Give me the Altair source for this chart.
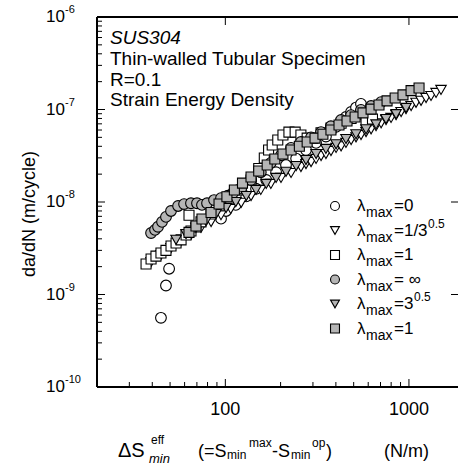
import altair as alt
import pandas as pd

# ---------------- data ----------------
# lambda_max = 0 (open circles)
c0_x = [44.6, 47.5, 49.4, 94.7, 100.9, 114, 130, 147, 167, 189, 214, 243, 275, 312, 353, 401, 427, 454, 484, 515, 548]
c0_y = [5.6e-10, 1.25e-9, 1.9e-9, 6.6e-9, 8.0e-9, 9.3e-9, 1.15e-8, 1.39e-8, 1.73e-8, 2.1e-8, 2.51e-8, 2.95e-8,
        3.65e-8, 4.35e-8, 5.1e-8, 6.5e-8, 7.3e-8, 8.3e-8, 9.4e-8, 1.05e-7, 1.15e-7]

# lambda_max = 1/3^0.5 (open down-triangles)
t1_x = [39.4, 44.6, 50.6, 57.4, 65.0, 73.7, 83.6, 94.7, 107, 122, 138, 156, 177, 201, 228, 258, 275, 293, 312, 332,
        353, 376, 401, 427, 454, 484, 515, 548, 584, 622, 662, 705, 750, 799, 851, 906, 964, 1027, 1093, 1164,
        1239, 1319, 1405, 1495]
t1_y = [2.24e-9, 2.67e-9, 3.18e-9, 3.79e-9, 4.4e-9, 5.24e-9, 6.08e-9, 7.2e-9, 8.4e-9, 9.8e-9, 1.16e-8, 1.35e-8,
        1.57e-8, 1.82e-8, 2.06e-8, 2.39e-8, 2.57e-8, 2.7e-8, 2.92e-8, 3.14e-8, 3.3e-8, 3.56e-8, 3.84e-8, 4.0e-8,
        4.35e-8, 4.68e-8, 5.0e-8, 5.3e-8, 5.7e-8, 6.1e-8, 6.6e-8, 7.1e-8, 7.7e-8, 8.1e-8, 8.7e-8, 9.4e-8, 1.01e-7,
        1.09e-7, 1.18e-7, 1.24e-7, 1.33e-7, 1.40e-7, 1.51e-7, 1.63e-7]

# lambda_max = 1 (open squares)
s2_x = [37.0, 39.4, 41.9, 44.6, 47.5, 50.6, 53.9, 57.4, 61.1, 63.4, 65.0, 69.2, 73.7, 83.6, 94.7, 107, 122, 138,
        152, 163, 172, 180, 193, 206, 222, 240, 258, 279, 300, 332, 376, 427, 484, 548, 584, 633]
s2_y = [2.14e-9, 2.42e-9, 2.6e-9, 2.81e-9, 3.0e-9, 3.35e-9, 3.6e-9, 3.9e-9, 4.4e-9, 7.2e-9, 4.85e-9, 5.37e-9,
        6.1e-9, 7.41e-9, 9.1e-9, 1.1e-8, 1.35e-8, 1.73e-8, 2.3e-8, 2.99e-8, 3.65e-8, 4.13e-8, 4.68e-8, 5.3e-8,
        5.7e-8, 5.7e-8, 5.3e-8, 4.9e-8, 4.9e-8, 5.6e-8, 6.3e-8, 7.1e-8, 8.0e-8, 8.9e-8, 7.5e-8, 7.9e-8]

# lambda_max = infinity (grey circles)
c3_x = [39.4, 41.4, 43.0, 45.2, 47.5, 50.6, 55.3, 59.6, 65.0, 70.1, 74.6, 79.5, 86.8, 94.7, 103, 110, 122, 138,
        156, 177, 201, 228, 258, 293, 332, 376, 427, 484, 548, 622, 705]
c3_y = [4.62e-9, 5.0e-9, 5.4e-9, 6.1e-9, 6.9e-9, 8.0e-9, 9.06e-9, 9.5e-9, 9.7e-9, 9.7e-9, 9.3e-9, 9.7e-9, 1.05e-8,
        1.1e-8, 1.17e-8, 1.25e-8, 1.4e-8, 1.73e-8, 2.1e-8, 2.65e-8, 3.2e-8, 3.85e-8, 4.45e-8, 5.0e-8, 5.7e-8,
        6.6e-8, 7.7e-8, 8.7e-8, 9.9e-8, 1.09e-7, 1.2e-7]

# lambda_max = 3^0.5 (grey down-triangles)
t4_x = [53.9, 61.1, 69.2, 78.5, 89.0, 100.9, 114, 130, 147, 167, 189, 214, 243, 275, 312, 353, 401, 454, 515, 584,
        662, 750, 851, 964]
t4_y = [3.9e-9, 4.5e-9, 5.24e-9, 6.2e-9, 7.4e-9, 8.6e-9, 1.0e-8, 1.16e-8, 1.35e-8, 1.57e-8, 1.82e-8, 2.12e-8,
        2.45e-8, 2.84e-8, 3.3e-8, 3.75e-8, 4.2e-8, 4.8e-8, 5.4e-8, 6.1e-8, 6.9e-8, 7.9e-8, 8.9e-8, 1.04e-7]

# lambda_max = 1 (grey squares)
s5_x = [63.4, 69.2, 74.6, 83.6, 92.4, 102, 112, 124, 138, 152, 169, 186, 206, 228, 253, 279, 308, 340, 376, 416,
        460, 509, 562, 622, 687, 760, 841, 928, 1027, 1135]
s5_y = [4.7e-9, 5.5e-9, 6.55e-9, 7.7e-9, 9.5e-9, 1.14e-8, 1.35e-8, 1.6e-8, 1.86e-8, 2.16e-8, 2.51e-8, 2.92e-8,
        3.3e-8, 3.65e-8, 4.0e-8, 4.45e-8, 4.9e-8, 5.4e-8, 6.0e-8, 6.8e-8, 7.5e-8, 8.3e-8, 9.2e-8, 1.01e-7, 1.12e-7,
        1.24e-7, 1.33e-7, 1.44e-7, 1.6e-7, 1.71e-7]

# axis ticks / labels
y_major = [1e-6, 1e-7, 1e-8, 1e-9, 1e-10]
y_sup = ["-6", "-7", "-8", "-9", "-10"]
y_minor = [m * 10.0 ** d for d in range(-10, -6) for m in range(2, 10)]
x_major = [100, 1000]
x_labels = ["100", "1000"]
x_minor = [20, 30, 40, 50, 60, 70, 80, 90, 200, 300, 400, 500, 600, 700, 800, 900]

legend_main = ["=0", "=1/3", "=1", "= \u221e", "=3", "=1"]
legend_sup = ["", "0.5", "", "", "0.5", ""]

# ---------------- layout ----------------
FONT = "Liberation Sans"
W, H = 361, 370
GREY = "#b5b5b5"
xs = alt.Scale(type="log", domain=[20, 1850], nice=False)
ys = alt.Scale(type="log", domain=[1e-10, 1e-6], nice=False)
one = pd.DataFrame({"k": [0]})


def X(f):
    return alt.X(f + ":Q", scale=xs, axis=None)


def Y(f):
    return alt.Y(f + ":Q", scale=ys, axis=None)


def series(xv, yv, shape, fill, size):
    df = pd.DataFrame({"x": xv, "y": yv})
    return alt.Chart(df).mark_point(shape=shape, filled=True, fill=fill, stroke="black",
                                    strokeWidth=1.1, size=size, opacity=1).encode(x=X("x"), y=Y("y"))


def txt(s, x, y, size, align="left", baseline="middle", style=None, angle=None):
    kw = dict(text=s, align=align, baseline=baseline, fontSize=size, font=FONT, color="black")
    if style:
        kw["fontStyle"] = style
    if angle is not None:
        kw["angle"] = angle
    return alt.Chart(one).mark_text(**kw).encode(x=alt.value(x), y=alt.value(y))


def hline(y, x1, x2, w=2):
    return alt.Chart(one).mark_rule(color="black", strokeWidth=w).encode(
        y=alt.value(y), x=alt.value(x1), x2=alt.value(x2))


def vline(x, y1, y2, w=2):
    return alt.Chart(one).mark_rule(color="black", strokeWidth=w).encode(
        x=alt.value(x), y=alt.value(y1), y2=alt.value(y2))


layers = []

# data series
layers.append(series(c0_x, c0_y, "circle", "white", 115))
layers.append(series(t1_x, t1_y, "triangle-down", "white", 110))
layers.append(series(s2_x, s2_y, "square", "white", 100))
layers.append(series(c3_x, c3_y, "circle", GREY, 115))
layers.append(series(t4_x, t4_y, "triangle-down", GREY, 110))
layers.append(series(s5_x, s5_y, "square", GREY, 100))

# frame
layers.append(vline(0, 0, H))
layers.append(hline(0, 0, W))
layers.append(hline(H, 0, W))

# ticks (pointing inward)
dfym = pd.DataFrame({"v": y_major, "sup": y_sup, "base": ["10"] * len(y_major)})
dfyn = pd.DataFrame({"v": y_minor})
dfxm = pd.DataFrame({"v": x_major, "lab": x_labels})
dfxn = pd.DataFrame({"v": x_minor})
layers.append(alt.Chart(dfym).mark_rule(color="black", strokeWidth=1).encode(
    y=Y("v"), x=alt.value(0), x2=alt.value(8)))
layers.append(alt.Chart(dfyn).mark_rule(color="black", strokeWidth=1).encode(
    y=Y("v"), x=alt.value(0), x2=alt.value(5)))
layers.append(alt.Chart(dfym).mark_rule(color="black", strokeWidth=1).encode(
    y=Y("v"), x=alt.value(W - 7), x2=alt.value(W)))
layers.append(alt.Chart(dfxm).mark_rule(color="black", strokeWidth=1).encode(
    x=X("v"), y=alt.value(H), y2=alt.value(H - 8)))
layers.append(alt.Chart(dfxn).mark_rule(color="black", strokeWidth=1).encode(
    x=X("v"), y=alt.value(H), y2=alt.value(H - 5)))
layers.append(alt.Chart(dfxm).mark_rule(color="black", strokeWidth=1).encode(
    x=X("v"), y=alt.value(0), y2=alt.value(8)))

# tick labels
layers.append(alt.Chart(dfym).mark_text(align="right", baseline="middle", fontSize=17, font=FONT).encode(
    y=Y("v"), x=alt.value(-32), text="base:N"))
layers.append(alt.Chart(dfym).mark_text(align="left", baseline="middle", fontSize=11, font=FONT, dy=-7).encode(
    y=Y("v"), x=alt.value(-32), text="sup:N"))
layers.append(alt.Chart(dfxm).mark_text(align="center", baseline="middle", fontSize=18, font=FONT).encode(
    x=X("v"), y=alt.value(393), text="lab:N"))

# axis titles
layers.append(txt("da/dN  (m/cycle)", -67, 197, 18, align="center", angle=270))
BL = 440
layers.append(txt("\u0394S", 21, BL, 20, baseline="alphabetic"))
layers.append(txt("min", 52, BL + 6, 13, baseline="alphabetic", style="italic"))
layers.append(txt("eff", 54, BL - 13, 12, baseline="alphabetic"))
layers.append(txt("(=S", 101, BL, 18, baseline="alphabetic"))
layers.append(txt("min", 130, BL + 2, 12, baseline="alphabetic"))
layers.append(txt("max", 152, BL - 10, 12, baseline="alphabetic"))
layers.append(txt("-S", 175, BL, 18, baseline="alphabetic"))
layers.append(txt("min", 194, BL + 2, 12, baseline="alphabetic"))
layers.append(txt("op", 215, BL - 10, 12, baseline="alphabetic"))
layers.append(txt(")", 229, BL, 18, baseline="alphabetic"))
layers.append(txt("(N/m)", 287, BL, 18, baseline="alphabetic"))

# annotation
layers.append(txt("SUS304", 13, 21, 19, style="italic"))
layers.append(txt("Thin-walled Tubular Specimen", 13, 42, 19))
layers.append(txt("R=0.1", 13, 63, 19))
layers.append(txt("Strain Energy Density", 13, 83, 19))

# legend
leg_shapes = ["circle", "triangle-down", "square", "circle", "triangle-down", "square"]
leg_fills = ["white", "white", "white", GREY, GREY, GREY]
sup_x = [None, 331, None, None, 317, None]
for i in range(6):
    ry = 189 + i * 24.5
    layers.append(alt.Chart(one).mark_point(shape=leg_shapes[i], filled=True, fill=leg_fills[i], stroke="black",
                                            strokeWidth=1.1, size=80, opacity=1).encode(
        x=alt.value(238), y=alt.value(ry)))
    layers.append(txt("\u03bb", 260, ry, 17))
    layers.append(txt("max", 269, ry + 7, 14))
    layers.append(txt(legend_main[i], 297, ry, 17))
    if legend_sup[i]:
        layers.append(txt(legend_sup[i], sup_x[i], ry - 7, 12))

chart = alt.layer(*layers).properties(
    width=W, height=H,
    autosize=alt.AutoSizeParams(type="none"),
    padding={"left": 97, "top": 17, "right": 1, "bottom": 78},
).configure_view(stroke=None)

chart.save("out.html", embed_options={"renderer": "svg", "actions": False})
